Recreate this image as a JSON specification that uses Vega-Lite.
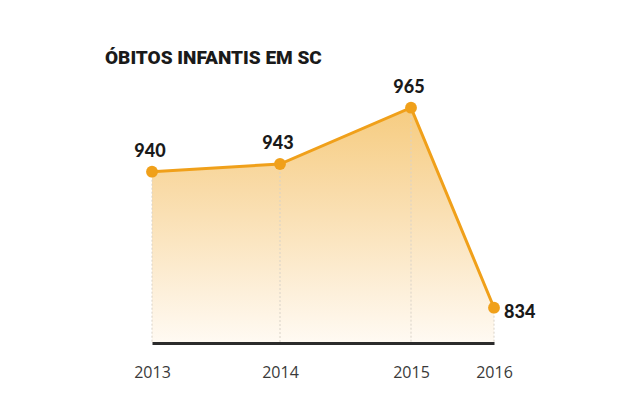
{
  "$schema": "https://vega.github.io/schema/vega-lite/v6.json",
  "width": 440,
  "height": 263,
  "autosize": {"type": "none"},
  "padding": {"left": 105, "top": 80, "right": 95, "bottom": 51},
  "background": "white",
  "title": {
    "text": "ÓBITOS INFANTIS EM SC",
    "anchor": "start",
    "frame": "group",
    "font": "Roboto",
    "fontSize": 19,
    "fontWeight": 900,
    "color": "#1a1a1a",
    "offset": 11
  },
  "config": {"view": {"stroke": null}},
  "data": {"values": [
    {"ano": 2013, "obitos": 940},
    {"ano": 2014, "obitos": 943},
    {"ano": 2015, "obitos": 965},
    {"ano": 2016, "obitos": 834}
  ]},
  "encoding": {
    "x": {
      "field": "ano", "type": "quantitative",
      "scale": {"domain": [2013, 2014, 2015, 2016], "range": [47, 175, 306, 389]},
      "axis": {
        "title": null, "values": [2013, 2014, 2015, 2016], "format": "d",
        "grid": false, "ticks": false, "domainColor": "#2b2b2b", "domainWidth": 3,
        "labelFont": "Open Sans", "labelFontSize": 16, "labelColor": "#3a3a3a",
        "labelPadding": 21, "labelFlush": false, "zindex": 2
      }
    },
    "y": {
      "field": "obitos", "type": "quantitative",
      "scale": {"domain": [800, 834, 940, 965], "range": [263, 227.7, 91.7, 27.7]},
      "axis": null
    }
  },
  "layer": [
    {
      "mark": {
        "type": "area",
        "color": {
          "gradient": "linear", "x1": 0, "y1": 0, "x2": 0, "y2": 1,
          "stops": [
            {"offset": 0, "color": "#f6cc80"},
            {"offset": 0.35, "color": "#f9dba8"},
            {"offset": 1, "color": "#fffaf3"}
          ]
        }
      },
      "encoding": {"y2": {"datum": 800}}
    },
    {
      "mark": {"type": "rule", "color": "#d9d2c8", "strokeWidth": 1, "strokeDash": [2, 2]},
      "encoding": {"y2": {"datum": 800}}
    },
    {
      "mark": {"type": "line", "color": "#f0a01a", "strokeWidth": 3}
    },
    {
      "mark": {"type": "point", "filled": true, "color": "#f0a01a", "size": 140, "opacity": 1}
    },
    {
      "transform": [{"filter": "datum.ano < 2016"}],
      "mark": {"type": "text", "font": "Lato", "fontSize": 18, "fontWeight": 900, "color": "#1a1a1a", "dy": -20, "dx": -2},
      "encoding": {"text": {"field": "obitos", "type": "quantitative"}}
    },
    {
      "transform": [{"filter": "datum.ano == 2016"}],
      "mark": {"type": "text", "font": "Lato", "fontSize": 18, "fontWeight": 900, "color": "#1a1a1a", "align": "left", "dx": 10, "dy": 5},
      "encoding": {"text": {"field": "obitos", "type": "quantitative"}}
    }
  ]
}
